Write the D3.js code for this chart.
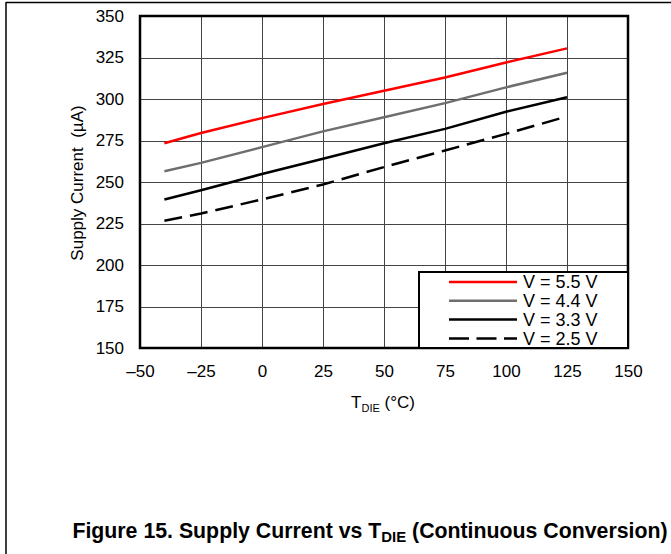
<!DOCTYPE html>
<html>
<head>
<meta charset="utf-8">
<script src="https://cdn.jsdelivr.net/npm/d3@7"></script>
<style>
  html, body { margin: 0; padding: 0; background: #fff; }
  svg { display: block; font-family: "Liberation Sans", Arial, Helvetica, sans-serif; }
</style>
</head>
<body>
<svg id="chart" width="671" height="554"></svg>
<script>
// ---- data ----
const temps = [-40, -25, 0, 25, 50, 75, 100, 125];
const v55 = [273.3, 279.5, 288.5, 297, 305, 313, 322, 330.5];
const v44 = [256.5, 261.5, 271, 280.5, 289, 297.5, 307, 315.8];
const v33 = [239.5, 245, 254.8, 264, 273.3, 282, 292.3, 301];
const v25 = [226.7, 231, 239.5, 248.5, 259, 269, 279, 289.5];
const seriesNames = ["V = 5.5 V", "V = 4.4 V", "V = 3.3 V", "V = 2.5 V"];
const xTicks = [-50, -25, 0, 25, 50, 75, 100, 125, 150];
const yTicks = [150, 175, 200, 225, 250, 275, 300, 325, 350];

const series = [
  { name: seriesNames[0], values: v55, color: "#ff0000", dash: null },
  { name: seriesNames[1], values: v44, color: "#6e6e6e", dash: null },
  { name: seriesNames[2], values: v33, color: "#000000", dash: null },
  { name: seriesNames[3], values: v25, color: "#000000", dash: "18,8" }
];

const svg = d3.select("#chart");
const L = 140, T = 16, W = 488, H = 332;

// outer frame lines
svg.append("line").attr("x1", 6).attr("x2", 671).attr("y1", 2.5).attr("y2", 2.5)
  .attr("stroke", "#000").attr("stroke-width", 1.5);
svg.append("line").attr("x1", 6).attr("x2", 6).attr("y1", 2).attr("y2", 554)
  .attr("stroke", "#000").attr("stroke-width", 1.5);

const x = d3.scaleLinear().domain([-50, 150]).range([L, L + W]);
const y = d3.scaleLinear().domain([150, 350]).range([T + H, T]);

const g = svg.append("g");

// grid
g.selectAll(".vg").data(xTicks.slice(1, -1)).enter().append("line")
  .attr("x1", d => Math.round(x(d)) + 0.5).attr("x2", d => Math.round(x(d)) + 0.5)
  .attr("y1", T).attr("y2", T + H)
  .attr("stroke", "#444").attr("stroke-width", 1);
g.selectAll(".hg").data(yTicks.slice(1, -1)).enter().append("line")
  .attr("y1", d => Math.round(y(d)) + 0.5).attr("y2", d => Math.round(y(d)) + 0.5)
  .attr("x1", L).attr("x2", L + W)
  .attr("stroke", "#444").attr("stroke-width", 1);

// axes (labels only)
const xAxis = d3.axisBottom(x).tickValues(xTicks).tickSize(0).tickPadding(0)
  .tickFormat(d => d < 0 ? "\u2013" + Math.abs(d) : String(d));
const xa = svg.append("g").attr("transform", `translate(0,${T + H})`).call(xAxis);
xa.select(".domain").remove();
xa.selectAll("text").attr("font-size", 17).attr("fill", "#000")
  .attr("font-family", "Liberation Sans, Arial, sans-serif")
  .attr("dy", null).attr("y", 29);

const yAxis = d3.axisLeft(y).tickValues(yTicks).tickSize(0).tickPadding(16);
const ya = svg.append("g").attr("transform", `translate(${L},0)`).call(yAxis);
ya.select(".domain").remove();
ya.selectAll("text").attr("font-size", 17).attr("fill", "#000")
  .attr("font-family", "Liberation Sans, Arial, sans-serif");

// lines
const line = d3.line().x((d, i) => x(temps[i])).y(d => y(d));
series.forEach(s => {
  g.append("path").datum(s.values)
    .attr("d", line)
    .attr("fill", "none")
    .attr("stroke", s.color)
    .attr("stroke-width", 2.5)
    .attr("stroke-dasharray", s.dash);
});

// plot frame
svg.append("rect").attr("x", L).attr("y", T).attr("width", W).attr("height", H)
  .attr("fill", "none").attr("stroke", "#000").attr("stroke-width", 2.5);

// legend
const lg = svg.append("g");
lg.append("rect").attr("x", 419).attr("y", 272).attr("width", L + W - 419).attr("height", T + H - 272)
  .attr("fill", "#fff").attr("stroke", "#000").attr("stroke-width", 2);
series.forEach((s, i) => {
  const yy = 282 + i * 18.8;
  lg.append("line").attr("x1", 449).attr("x2", 517).attr("y1", yy).attr("y2", yy)
    .attr("stroke", s.color).attr("stroke-width", 2.5)
    .attr("stroke-dasharray", s.dash ? "20,7.5" : null);
  lg.append("text").attr("x", 523).attr("y", yy + 6.3)
    .attr("font-size", 18).text(s.name);
});

// axis titles
const xt = svg.append("text").attr("x", 383).attr("y", 408).attr("text-anchor", "middle")
  .attr("font-size", 17);
xt.append("tspan").text("T");
xt.append("tspan").attr("font-size", 11).attr("dy", 4).text("DIE");
xt.append("tspan").attr("dy", -4).text(" (\u00B0C)");

svg.append("text").attr("transform", "translate(83,183) rotate(-90)")
  .attr("text-anchor", "middle").attr("font-size", 17)
  .style("white-space", "pre")
  .text("Supply Current  (\u00B5A)");

// figure caption
const cap = svg.append("text").attr("x", 370).attr("y", 538).attr("text-anchor", "middle")
  .attr("font-size", 17).attr("font-weight", "bold");
cap.append("tspan").text("Figure 15. Supply Current vs T");
cap.append("tspan").attr("font-size", 12).attr("dy", 4).text("DIE");
cap.append("tspan").attr("dy", -4).text(" (Continuous Conversion)");
const w = cap.node().getComputedTextLength();
const fs = 17 * 596 / w;
cap.attr("font-size", fs);
cap.selectAll("tspan").filter((d, i) => i === 1).attr("font-size", fs * 0.7);
</script>
</body>
</html>
